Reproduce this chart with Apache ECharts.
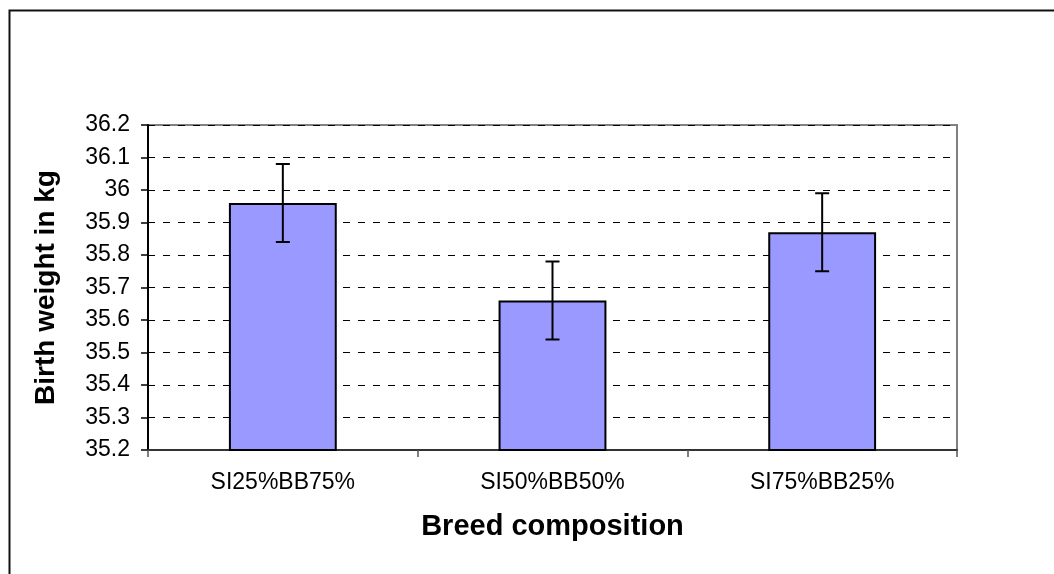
<!DOCTYPE html>
<html>
<head>
<meta charset="utf-8">
<script src="https://cdn.jsdelivr.net/npm/echarts@6/dist/echarts.min.js"></script>
<style>html,body{margin:0;padding:0;background:#fff;}#c{width:1054px;height:574px;}</style>
</head>
<body>
<div id="c"></div>
<script>
var categories = ['SI25%BB75%', 'SI50%BB50%', 'SI75%BB25%'];
var birthWeight = [35.96, 35.66, 35.87];
var errUpper = [36.08, 35.78, 35.99];
var errLower = [35.84, 35.54, 35.75];

var chart = echarts.init(document.getElementById('c'), null, {renderer: 'canvas'});
var font = '"Liberation Sans", Arial, sans-serif';
var errData = categories.map(function (c, i) { return [i, errLower[i], errUpper[i]]; });

chart.setOption({
  animation: false,
  backgroundColor: '#fff',
  graphic: [{
    type: 'rect', left: 7, top: 8, z: -10,
    shape: {x: 0, y: 0, width: 1200, height: 800},
    style: {fill: 'none', stroke: '#111', lineWidth: 2}
  }],
  grid: {
    left: 148, top: 125, right: 97, bottom: 124,
    show: true, borderColor: '#808080', borderWidth: 2, backgroundColor: 'transparent'
  },
  xAxis: {
    type: 'category',
    data: categories,
    name: 'Breed composition',
    nameLocation: 'middle',
    nameGap: 62,
    nameTextStyle: {fontFamily: font, fontSize: 29, fontWeight: 'bold', color: '#000'},
    axisLine: {lineStyle: {color: '#333', width: 2}},
    axisTick: {show: true, length: 7, lineStyle: {color: '#555', width: 1.5}},
    axisLabel: {fontFamily: font, fontSize: 23, color: '#000', margin: 21}
  },
  yAxis: {
    type: 'value',
    min: 35.2, max: 36.2, interval: 0.1,
    name: 'Birth weight in kg',
    nameLocation: 'middle',
    nameGap: 88,
    nameTextStyle: {fontFamily: font, fontSize: 28, fontWeight: 'bold', color: '#000'},
    axisLine: {show: true, lineStyle: {color: '#000', width: 2}},
    axisTick: {show: true, length: 7, lineStyle: {color: '#000', width: 1.5}},
    axisLabel: {fontFamily: font, fontSize: 23, color: '#000', margin: 18},
    splitLine: {show: true, lineStyle: {color: '#000', width: 1, type: [7, 8]}}
  },
  series: [{
    type: 'bar',
    data: birthWeight,
    barWidth: '40%',
    clip: true,
    itemStyle: {color: '#9999FF', borderColor: '#000', borderWidth: 2},
    z: 3
  }, {
    type: 'custom',
    data: errData,
    z: 5,
    renderItem: function (params, api) {
      var x = api.value(0);
      var lo = api.coord([x, api.value(1)]);
      var hi = api.coord([x, api.value(2)]);
      var cap = 7;
      var st = {stroke: '#000', lineWidth: 2};
      return {
        type: 'group',
        children: [
          {type: 'line', shape: {x1: hi[0], y1: hi[1], x2: lo[0], y2: lo[1]}, style: st},
          {type: 'line', shape: {x1: hi[0] - cap, y1: hi[1], x2: hi[0] + cap, y2: hi[1]}, style: st},
          {type: 'line', shape: {x1: lo[0] - cap, y1: lo[1], x2: lo[0] + cap, y2: lo[1]}, style: st}
        ]
      };
    }
  }]
});
</script>
</body>
</html>
